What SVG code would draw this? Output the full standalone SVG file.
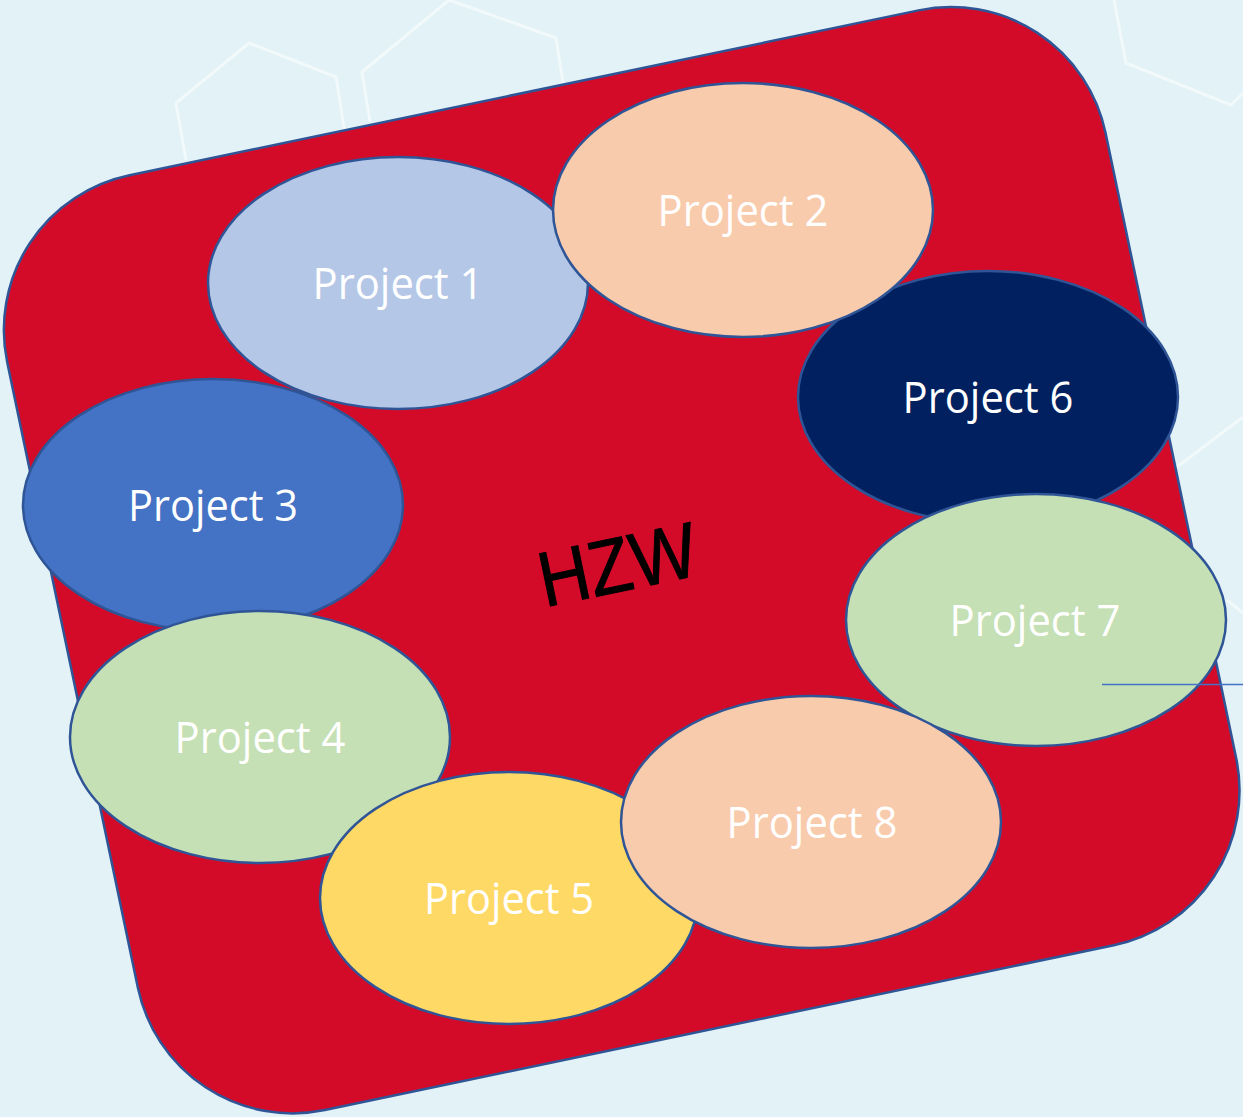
<svg xmlns="http://www.w3.org/2000/svg" width="1243" height="1117" viewBox="0 0 1243 1117">
  <style>
    .hex { fill: none; stroke: #ffffff; stroke-opacity: 0.55; stroke-width: 3; stroke-linejoin: round; }
    .node { stroke: #2F5597; stroke-width: 2.5; }
    .lbl { font-family: "Open Sans", "Noto Sans", "Liberation Sans", sans-serif; font-size: 44px; fill: #ffffff; text-anchor: middle; }
  </style>
  <rect x="0" y="0" width="1243" height="1117" fill="#E2F2F6"/>
  <g id="background-hexagons">
    <polyline class="hex" points="186,160 176,103 249,43 336,77 344,128 350,170"/>
    <polyline class="hex" points="370,122 362,72 449,0"/>
    <polyline class="hex" points="449,0 556,38 563,83"/>
    <polyline class="hex" points="1114,0 1126,63 1231,105 1243,93"/>
    <polyline class="hex" points="1177,467 1243,417"/>
    <polyline class="hex" points="1227,600 1243,613"/>
  </g>
  <g id="hzw">
    <rect x="-67" y="198" width="1122" height="955" rx="158" ry="158" transform="rotate(-11.8)" fill="#D30B29" stroke="#2F5597" stroke-width="2.5"/>
    <text x="623" y="591" transform="rotate(-11.8 623 591)" font-family="'Liberation Sans', Arial, sans-serif" font-size="78" fill="#000000" stroke="#000000" stroke-width="1" text-anchor="middle" textLength="160" lengthAdjust="spacingAndGlyphs">HZW</text>
  </g>
  <g id="project1">
    <ellipse class="node" cx="398" cy="283" rx="190" ry="126" fill="#B4C7E7"/>
    <text class="lbl" x="398" y="299" textLength="171" lengthAdjust="spacingAndGlyphs">Project 1</text>
  </g>
  <g id="project3">
    <ellipse class="node" cx="213" cy="505" rx="190" ry="126" fill="#4472C4"/>
    <text class="lbl" x="213" y="521" textLength="170" lengthAdjust="spacingAndGlyphs">Project 3</text>
  </g>
  <g id="project4">
    <ellipse class="node" cx="260" cy="737" rx="190" ry="126" fill="#C5E0B4"/>
    <text class="lbl" x="260" y="753" textLength="171" lengthAdjust="spacingAndGlyphs">Project 4</text>
  </g>
  <g id="project5">
    <ellipse class="node" cx="509" cy="898" rx="189" ry="126" fill="#FFD966"/>
    <text class="lbl" x="509" y="914" textLength="170" lengthAdjust="spacingAndGlyphs">Project 5</text>
  </g>
  <g id="project6">
    <ellipse class="node" cx="988" cy="397" rx="190" ry="126" fill="#002060"/>
    <text class="lbl" x="988" y="413" textLength="171" lengthAdjust="spacingAndGlyphs">Project 6</text>
  </g>
  <g id="project2">
    <ellipse class="node" cx="743" cy="210" rx="190" ry="127" fill="#F8CBAD"/>
    <text class="lbl" x="743" y="226" textLength="171" lengthAdjust="spacingAndGlyphs">Project 2</text>
  </g>
  <g id="project7">
    <ellipse class="node" cx="1036" cy="620" rx="190" ry="126" fill="#C5E0B4"/>
    <text class="lbl" x="1035" y="636" textLength="171" lengthAdjust="spacingAndGlyphs">Project 7</text>
  </g>
  <g id="project8">
    <ellipse class="node" cx="811" cy="822" rx="190" ry="126" fill="#F8CBAD"/>
    <text class="lbl" x="812" y="838" textLength="171" lengthAdjust="spacingAndGlyphs">Project 8</text>
  </g>
  <g id="connectors">
    <line x1="1102" y1="684.5" x2="1243" y2="684.5" stroke="#4472C4" stroke-width="1.5"/>
  </g>
</svg>
